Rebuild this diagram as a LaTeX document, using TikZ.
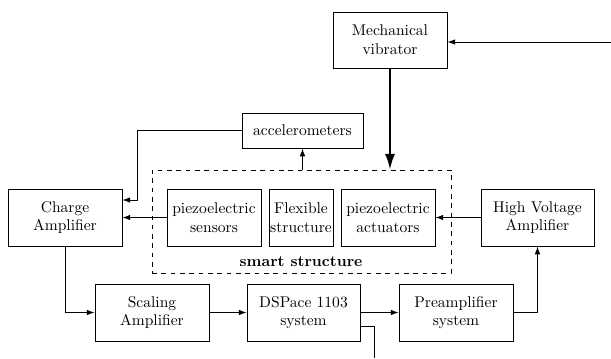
\documentclass[tikz,border=0pt]{standalone}
\usetikzlibrary{arrows.meta,calc}
\begin{document}
\begin{tikzpicture}[x=0.643pt,y=-0.643pt,
  blk/.style={draw,line width=0.6pt,align=center,inner sep=0pt,minimum width=#1*0.643pt,minimum height=57*0.643pt},
  blk/.default=114,
  arr/.style={line width=0.6pt,-{Latex[length=5pt,width=3.6pt]}},
  ln/.style={line width=0.6pt},
  thickarr/.style={line width=1.4pt,-{Latex[length=10pt,width=6.5pt]}}]
\useasboundingbox (0,0) rectangle (611,358);
\node[blk,minimum height=56*0.643pt] (vib) at (390,40) {Mechanical\\vibrator};
\node[blk=121,minimum height=35*0.643pt] (acc) at (302.5,130.5) {accelerometers};
\node[draw,dashed,line width=0.6pt,minimum width=299*0.643pt,minimum height=103*0.643pt,inner sep=0pt] (ss) at (301.5,221.5) {};
\node[font=\bfseries] (sslab) at (301,262) {smart structure};
\node[blk] (chg) at (65,217.5) {Charge\\Amplifier};
\node[blk=94] (sen) at (214,217.5) {piezoelectric\\sensors};
\node[blk=64] (flex) at (301,217.5) {Flexible\\structure};
\node[blk=94] (act) at (388,217.5) {piezoelectric\\actuators};
\node[blk=113] (hv) at (537.5,217.5) {High Voltage\\Amplifier};
\node[blk] (scal) at (152,312.5) {Scaling\\Amplifier};
\node[blk=113] (dsp) at (303.5,312.5) {DSPace 1103\\system};
\node[blk] (pre) at (456,312.5) {Preamplifier\\system};
\coordinate (vin) at (611,42);
\coordinate (dout) at (374,358);
% connectors
\draw[arr] (vin) -- (vin -| vib.east);
\draw[thickarr] (vib.south) -- (vib.south |- ss.north);
\draw[arr] (acc.south |- ss.north) -- (acc.south);
\draw[arr] (acc.west) -| ($(chg.east)+(15,-17.5)$) -- ($(chg.east)+(0,-17.5)$);
\draw[arr] (sen.west) -- (chg.east);
\draw[arr] (hv.west) -- (act.east);
\draw[arr] (chg.south) |- (scal.west);
\draw[arr] (scal.east) -- (dsp.west);
\draw[arr] (dsp.east) -- (pre.west);
\draw[arr] (pre.east) -| (hv.south);
\draw[ln] ($(dsp.east)+(0,13.5)$) -| (dout);
\end{tikzpicture}
\end{document}
